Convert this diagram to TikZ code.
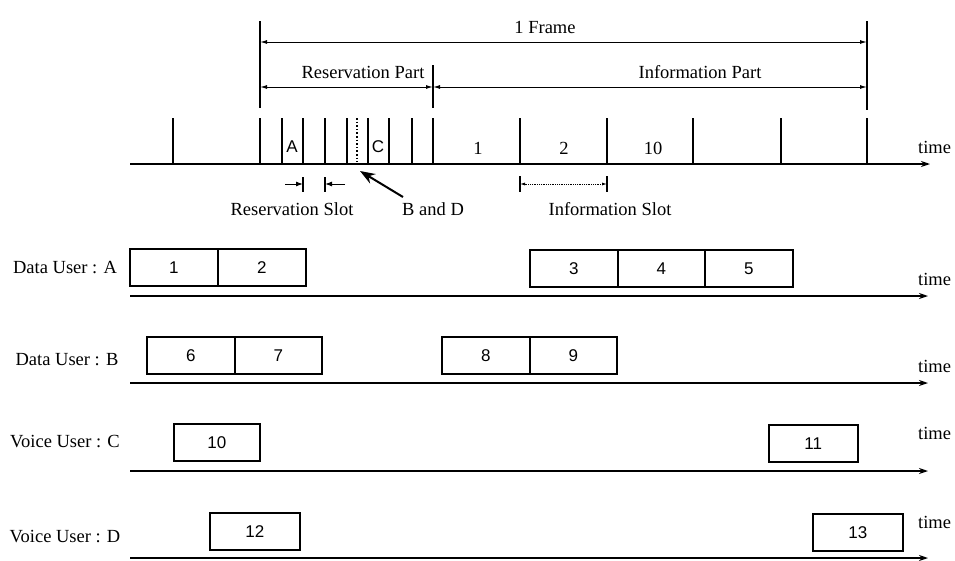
\documentclass[tikz,border=0pt]{standalone}
\usepackage{fontspec}
\setmainfont{Liberation Serif}
\newfontfamily\numfont{Liberation Sans}
\usetikzlibrary{arrows.meta}
\tikzset{
  lbl/.style={font=\fontsize{18.5}{21}\selectfont, inner sep=0},
  num/.style={font=\numfont\fontsize{17}{19}\selectfont, inner sep=0},
  cell/.style={draw, line width=1.6, minimum height=37, inner sep=0, font=\numfont\fontsize{17}{19}\selectfont},
  axis/.style={line width=1.8, -{Stealth[length=9, width=6]}},
  tick/.style={line width=1.5},
  dim/.style={line width=1.0, {Latex[length=7, width=4]}-{Latex[length=7, width=4]}},
}
\begin{document}
\begin{tikzpicture}[x=1pt, y=-1pt]
\useasboundingbox (0,0) rectangle (955,560);

% ---------- frame structure ----------
\coordinate (fL) at (260,21);  \coordinate (fLb) at (260,108);
\coordinate (fR) at (867,21);  \coordinate (fRb) at (867,110);
\coordinate (fM) at (433,65);  \coordinate (fMb) at (433,108);
\draw[line width=1.1] (fL) -- (fLb);
\draw[line width=1.1] (fR) -- (fRb);
\draw[line width=1.1] (fM) -- (fMb);

\coordinate (fa1) at (260,42); \coordinate (fa2) at (867,42);
\draw[dim] (fa1) -- (fa2);
\node[lbl] (frame) at (545,27) {1 Frame};

\coordinate (ra1) at (260,87); \coordinate (ra2) at (433,87); \coordinate (ia2) at (867,87);
\draw[dim] (ra1) -- (ra2);
\draw[dim] (ra2) -- (ia2);
\node[lbl] (respart) at (363,72) {Reservation Part};
\node[lbl] (infpart) at (700,72) {Information Part};

% ---------- channel time axis ----------
\coordinate (t0) at (130,164); \coordinate (t1) at (930,164);
\draw[axis] (t0) -- (t1);
\node[lbl, anchor=west] (time0) at (918,147) {time};

\foreach \x in {173,260,282,303,325,347,368,389,412,433,520,607,693,781,867}
  \draw[tick] (\x,118) -- (\x,164);
\draw[line width=1.6, dotted] (357,118) -- (357,162);

\node[num] (sA) at (292,147) {A};
\node[num] (sC) at (378,147) {C};
\node[lbl] (i1) at (478,148) {1};
\node[lbl] (i2) at (564,148) {2};
\node[lbl] (i10) at (653,148) {10};

% reservation slot width
\coordinate (rs1) at (303,184); \coordinate (rs2) at (325,184);
\coordinate (rs1o) at (285,184); \coordinate (rs2o) at (345,184);
\draw[tick, line width=1.1] (303,177) -- (303,192);
\draw[tick, line width=1.1] (325,177) -- (325,192);
\draw[line width=1.0, -{Latex[length=7, width=5]}] (rs1o) -- (rs1);
\draw[line width=1.0, -{Latex[length=7, width=5]}] (rs2o) -- (rs2);
\node[lbl] (rslot) at (292,209) {Reservation Slot};

% B and D pointer
\node[lbl, anchor=west] (bd) at (402,209) {B and D};
\coordinate (bdtail) at (403,197);
\coordinate (bdtip) at (360,171);
\draw[line width=2.0, -{Stealth[length=15, width=11]}] (bdtail) -- (bdtip);

% information slot width
\coordinate (is1) at (520,184); \coordinate (is2) at (607,184);
\draw[tick, line width=1.1] (520,176) -- (520,192);
\draw[tick, line width=1.1] (607,176) -- (607,192);
\draw[line width=0.8, densely dotted, {Latex[length=5, width=3]}-{Latex[length=5, width=3]}] (is1) -- (is2);
\node[lbl] (islot) at (610,209) {Information Slot};

% ---------- Data User A ----------
\node[lbl] (uA) at (65,268) {Data User : A};
\node[cell, minimum width=88, anchor=north west] (c1) at (129,248) {1};
\node[cell, minimum width=88, anchor=north west] (c2) at (217,248) {2};
\node[cell, minimum width=88, anchor=north west] (c3) at (529,249) {3};
\node[cell, minimum width=87, anchor=north west] (c4) at (617,249) {4};
\node[cell, minimum width=88, anchor=north west] (c5) at (704,249) {5};
\coordinate (aA0) at (130,296); \coordinate (aA1) at (928,296);
\draw[axis] (aA0) -- (aA1);
\node[lbl, anchor=west] (timeA) at (918,279) {time};

% ---------- Data User B ----------
\node[lbl] (uB) at (67,360) {Data User : B};
\node[cell, minimum width=88, anchor=north west] (c6) at (146,336) {6};
\node[cell, minimum width=87, anchor=north west] (c7) at (234,336) {7};
\node[cell, minimum width=88, anchor=north west] (c8) at (441,336) {8};
\node[cell, minimum width=87, anchor=north west] (c9) at (529,336) {9};
\coordinate (aB0) at (130,383); \coordinate (aB1) at (928,383);
\draw[axis] (aB0) -- (aB1);
\node[lbl, anchor=west] (timeB) at (918,366) {time};

% ---------- Voice User C ----------
\node[lbl] (uC) at (65,442) {Voice User : C};
\node[cell, minimum width=86, anchor=north west] (c10) at (173,423) {10};
\node[cell, minimum width=89, anchor=north west] (c11) at (768,424) {11};
\coordinate (aC0) at (130,471); \coordinate (aC1) at (928,471);
\draw[axis] (aC0) -- (aC1);
\node[lbl, anchor=west] (timeC) at (918,433) {time};

% ---------- Voice User D ----------
\node[lbl] (uD) at (65,537) {Voice User : D};
\node[cell, minimum width=90, anchor=north west] (c12) at (209,512) {12};
\node[cell, minimum width=90, anchor=north west] (c13) at (812,513) {13};
\coordinate (aD0) at (130,558); \coordinate (aD1) at (928,558);
\draw[axis] (aD0) -- (aD1);
\node[lbl, anchor=west] (timeD) at (918,522) {time};
\end{tikzpicture}
\end{document}
